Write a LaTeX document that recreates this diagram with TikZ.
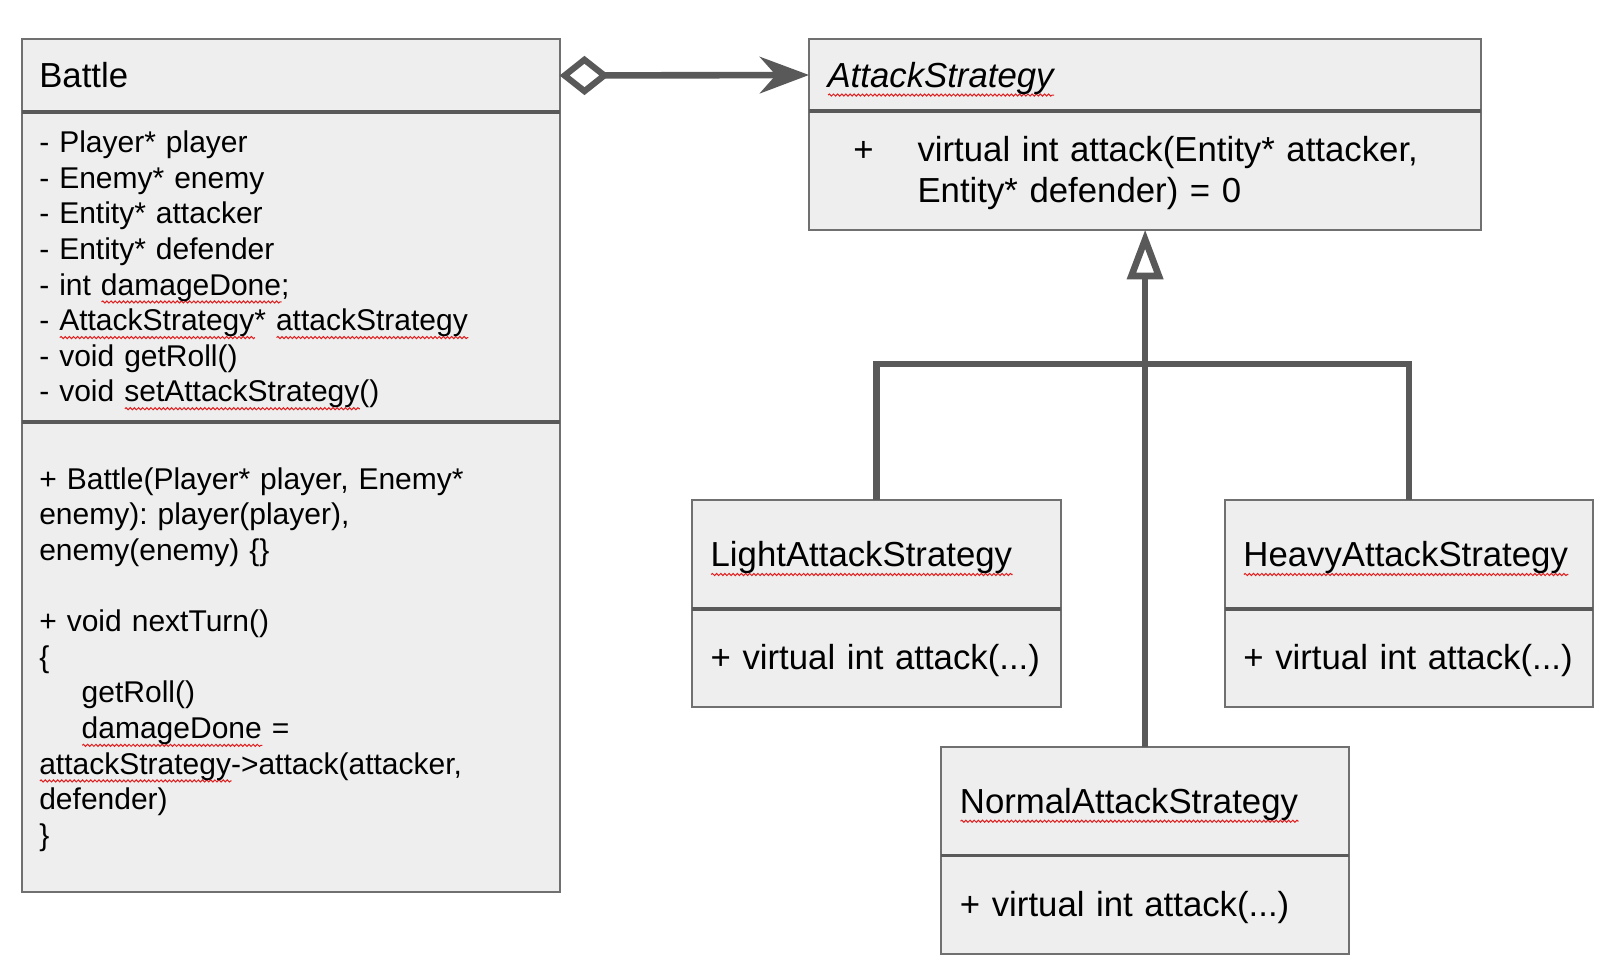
\documentclass[tikz,border=0pt]{standalone}
\usepackage{fontspec}
\setmainfont{Liberation Sans}
\usepackage{xcolor}
\usepackage{tikz}
\usetikzlibrary{positioning,arrows.meta,decorations.pathmorphing}
\frenchspacing
\definecolor{boxfill}{HTML}{EEEEEE}
\definecolor{boxline}{HTML}{707070}
\definecolor{umlgray}{HTML}{595959}
\definecolor{spellred}{HTML}{E02020}
\newsavebox{\spellbox}
\newcommand{\spellwave}[1]{\leavevmode\sbox{\spellbox}{#1}\rlap{\smash{\tikz[baseline=0pt]\draw[spellred, line width=0.5pt, decorate, decoration={snake, amplitude=0.5pt, segment length=2pt}] (0pt,-0.23em) -- (\the\wd\spellbox,-0.23em);}}#1}
\newcommand{\linestrut}{\rule[-0.212em]{0pt}{1.117em}}

\begin{document}
\begin{tikzpicture}[x=0.5pt, y=-0.5pt,
	part/.style={draw=boxline, fill=boxfill, line width=1pt, inner xsep=8.5pt, inner ysep=0pt, outer sep=0pt, align=left, font=\fontsize{16.8}{20}\selectfont, execute at begin node=\linestrut, execute at end node=\linestrut},
	battletext/.style={font=\fontsize{14.5}{17.2}\selectfont},
	divider/.style={draw=umlgray, line width=1.8pt},
	link/.style={draw=umlgray, line width=3.2pt},
	assoc/.style={link, {Diamond[open, length=24pt, width=19pt, line width=3pt]}-{Stealth[length=24pt, width=18pt, inset=8pt, line width=0pt]}},
	gen/.style={link, -{Triangle[open, length=24pt, width=17pt, line width=3.2pt]}}]
	\useasboundingbox (0,0) rectangle (1568,933);

	\node[part, anchor=north west, minimum width=260pt, minimum height=35pt, text width=243pt] (battle) at (21,38) {Battle};
	\node[part, battletext, below=0pt of battle, minimum width=260pt, minimum height=150pt, text width=243pt] (battleattr) {- Player* player\\- Enemy* enemy\\- Entity* attacker\\- Entity* defender\\- int \spellwave{damageDone};\\- \spellwave{AttackStrategy}* \spellwave{attackStrategy}\\- void getRoll()\\- void \spellwave{setAttackStrategy}()};
	\node[part, battletext, below=0pt of battleattr, minimum width=260pt, minimum height=227pt, text width=243pt] (battleops) {+ Battle(Player* player, Enemy*\\enemy): player(player),\\enemy(enemy) \{\}\\[17.2pt]+ void nextTurn()\\\{\\\hspace*{20.5pt}getRoll()\\\hspace*{20.5pt}\spellwave{damageDone} =\\\spellwave{attackStrategy}->attack(attacker,\\defender)\\\}};

	\node[part, anchor=north west, minimum width=325pt, minimum height=34.5pt, inner xsep=9pt, text width=307pt] (strategy) at (782,38) {\itshape\spellwave{AttackStrategy}};
	\node[part, below=0pt of strategy, minimum width=325pt, minimum height=57.5pt, inner xsep=21.5pt, text width=282pt] (strategyops) {\makebox[31pt][l]{+}virtual int attack(Entity* attacker,\\\hspace*{31pt}Entity* defender) = 0};

	\node[part, anchor=north west, minimum width=178.5pt, minimum height=53pt, inner xsep=9pt, text width=160.5pt] (light) at (669,483) {\spellwave{LightAttackStrategy}};
	\node[part, below=0pt of light, minimum width=178.5pt, minimum height=47pt, inner xsep=9pt, text width=160.5pt] (lightops) {\mbox{+ virtual int attack(...)}};

	\node[part, anchor=north west, minimum width=178pt, minimum height=53pt, inner xsep=9pt, text width=160pt] (heavy) at (1184,483) {\spellwave{HeavyAttackStrategy}};
	\node[part, below=0pt of heavy, minimum width=178pt, minimum height=47pt, inner xsep=9pt, text width=160pt] (heavyops) {\mbox{+ virtual int attack(...)}};

	\node[part, anchor=north west, minimum width=197pt, minimum height=52.5pt, inner xsep=9pt, text width=179pt] (normal) at (910,722) {\spellwave{NormalAttackStrategy}};
	\node[part, below=0pt of normal, minimum width=197pt, minimum height=47.5pt, inner xsep=9pt, text width=179pt] (normalops) {\mbox{+ virtual int attack(...)}};

	\foreach \comp in {battleattr, battleops, strategyops, lightops, heavyops, normalops}
		\draw[divider] (\comp.north west) -- (\comp.north east);

	\draw[assoc] (battle.east) -- (strategy.west);
	\coordinate (bar) at (1107,352);
	\draw[link] (light.north) |- (bar) -| (heavy.north);
	\draw[gen] (normal.north) -- (strategyops.south);
\end{tikzpicture}
\end{document}
